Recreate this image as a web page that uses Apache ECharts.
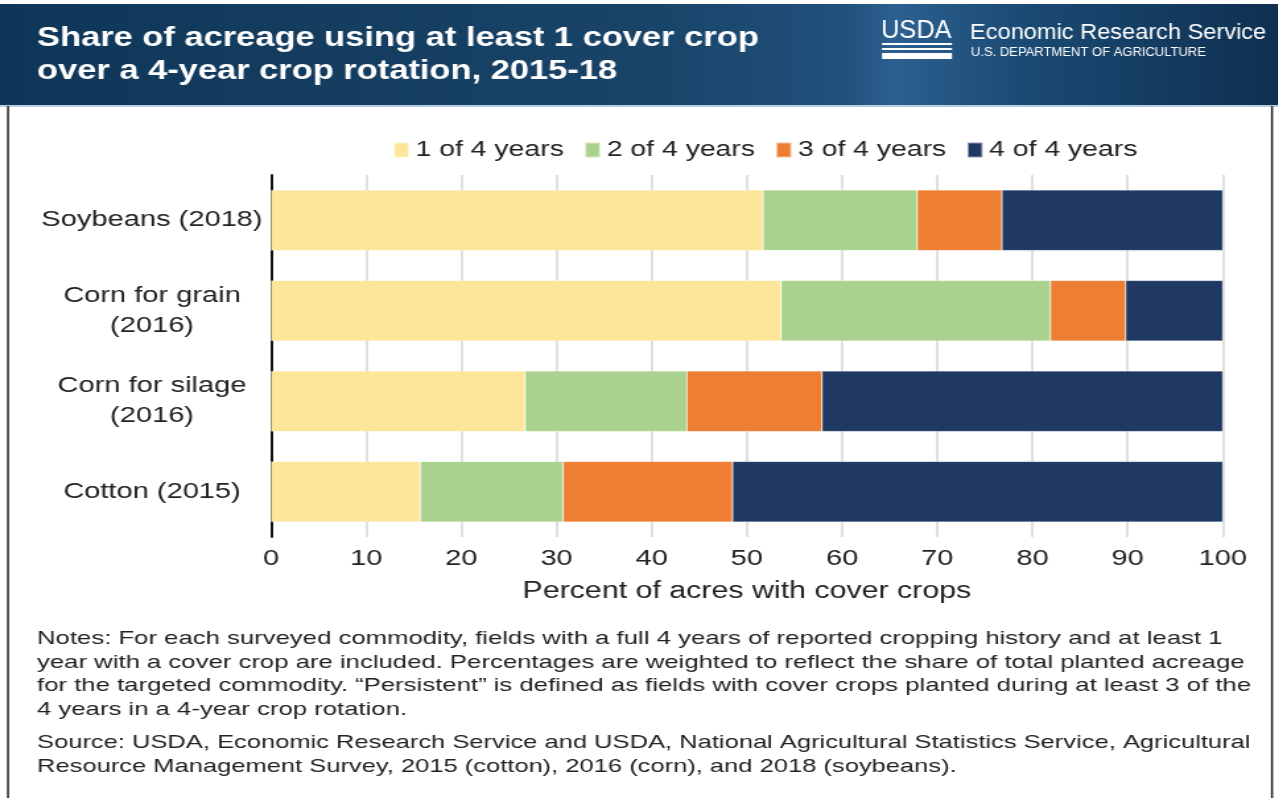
<!DOCTYPE html>
<html><head><meta charset="utf-8">
<script src="https://cdn.jsdelivr.net/npm/echarts@6/dist/echarts.min.js"></script>
<style>html,body{margin:0;padding:0;background:#fff;overflow:hidden}#c{height:798px;transform-origin:0 0}</style>
</head><body><div id="c"></div>
<script>
const categories = ["Soybeans (2018)", "Corn for grain\n(2016)", "Corn for silage\n(2016)", "Cotton (2015)"];
const seriesNames = ["1 of 4 years", "2 of 4 years", "3 of 4 years", "4 of 4 years"];
const oneOfFour   = [51.7, 53.6, 26.7, 15.7];
const twoOfFour   = [16.2, 28.3, 17.0, 15.0];
const threeOfFour = [8.9, 7.9, 14.2, 17.8];
const fourOfFour  = [23.2, 10.2, 42.1, 51.5];
const xTicks = [0, 10, 20, 30, 40, 50, 60, 70, 80, 90, 100];
const colors = ["#fce699", "#aad28f", "#ee7e31", "#203864"];
const titleLines = ["Share of acreage using at least 1 cover crop", "over a 4-year crop rotation, 2015-18"];
const axisTitle = "Percent of acres with cover crops";
const notes = [
  "Notes: For each surveyed commodity, fields with a full 4 years of reported cropping history and at least 1",
  "year with a cover crop are included. Percentages are weighted to reflect the share of total planted acreage",
  "for the targeted commodity. \u201CPersistent\u201D is defined as fields with cover crops planted during at least 3 of the",
  "4 years in a 4-year crop rotation."
];
const source = [
  "Source: USDA, Economic Research Service and USDA, National Agricultural Statistics Service, Agricultural",
  "Resource Management Survey, 2015 (cotton), 2016 (corn), and 2018 (soybeans)."
];

// the reference artwork is horizontally stretched; reproduce with a CSS stretch
const S = 1.32;
const W = 1278 / S;
const X = (px) => px / S;
const FONT = "Liberation Sans";
const el = document.getElementById('c');
el.style.width = W + 'px';
el.style.transform = 'scaleX(' + S + ')';

const chart = echarts.init(el, null, {renderer: 'canvas'});
const values = [oneOfFour, twoOfFour, threeOfFour, fourOfFour];

function txt(x, y, text, font, sx, lh, fill) {
  return {type:'text', x:X(x), y:y, scaleX:sx, silent:true,
    style:{x:0, y:0, text:text, fill:fill||'#222', font:font, lineHeight:lh, verticalAlign:'top', align:'left'}};
}

const graphics = [
  {type:'rect', shape:{x:0,y:4,width:W,height:102}, style:{fill:{type:'linear',x:0,y:0,x2:1,y2:0,colorStops:[
    {offset:0,color:'#0f3658'},{offset:0.5,color:'#194468'},{offset:0.66,color:'#21507c'},{offset:0.7,color:'#2c6090'},{offset:0.8,color:'#1b4a74'},{offset:1,color:'#0f3050'}]}}, z:0},
  {type:'rect', shape:{x:0,y:105,width:W,height:2}, style:{fill:'#b7cde0'}},
  txt(37, 22, titleLines.join("\n"), "bold 28px '"+FONT+"'", 0.932, 33, '#fff'),
  txt(881, 17, "USDA", "26px '"+FONT+"'", 0.74, 28, '#fff'),
  {type:'rect', shape:{x:X(882),y:43,width:X(70),height:2}, style:{fill:'#fff'}},
  {type:'rect', shape:{x:X(882),y:48,width:X(70),height:2}, style:{fill:'#fff'}},
  {type:'rect', shape:{x:X(882),y:53,width:X(70),height:6}, style:{fill:'#fff'}},
  txt(970, 21, "Economic Research Service", "22px '"+FONT+"'", 0.812, 24, '#fff'),
  txt(971, 45, "U.S. DEPARTMENT OF AGRICULTURE", "13px '"+FONT+"'", 0.758, 15, '#fff'),
  {type:'rect', shape:{x:X(7),y:106,width:X(2),height:692}, style:{fill:'#222'}},
  {type:'rect', shape:{x:X(1271),y:106,width:X(2),height:692}, style:{fill:'#222'}},
  txt(37, 627, notes.join("\n"), "19px '"+FONT+"'", 1.025, 23.7),
  txt(37, 731, source.join("\n"), "19px '"+FONT+"'", 1.017, 23.7)
];

chart.setOption({
  animation:false,
  color: colors,
  textStyle:{fontFamily:FONT},
  legend:{
    top:134, left:X(386), itemWidth:X(15), itemHeight:15, icon:'rect', itemGap:X(20),
    data: seriesNames,
    textStyle:{fontSize:21.5, color:'#222', fontFamily:FONT}
  },
  grid:{left:X(271), right:W - X(1223), top:175, bottom:798-537, containLabel:false},
  xAxis:{
    type:'value', min:0, max:100, interval:10,
    axisLine:{show:false}, axisTick:{show:false},
    splitLine:{show:true, lineStyle:{color:'#d4d4d4', width:1.5}},
    axisLabel:{fontSize:22, color:'#222', margin:11, fontFamily:FONT, formatter:(v)=> xTicks.includes(v)? String(v):''},
    name:axisTitle, nameLocation:'middle', nameGap:43,
    nameTextStyle:{fontSize:23, color:'#222', fontFamily:FONT}
  },
  yAxis:{
    type:'category', data:categories, inverse:true,
    axisLine:{show:true, lineStyle:{color:'#111', width:2}}, axisTick:{show:false},
    axisLabel:{fontSize:22, color:'#222', align:'center', margin:X(119), lineHeight:30, padding:[8,0,0,0], fontFamily:FONT}
  },
  series: seriesNames.map((n,i)=>({
    name:n, type:'bar', stack:'total', data:values[i], barWidth:'67%',
    itemStyle:{color:colors[i], borderColor:'rgba(255,255,255,0.5)', borderWidth:0.5}
  })),
  graphic: graphics
});
</script></body></html>
